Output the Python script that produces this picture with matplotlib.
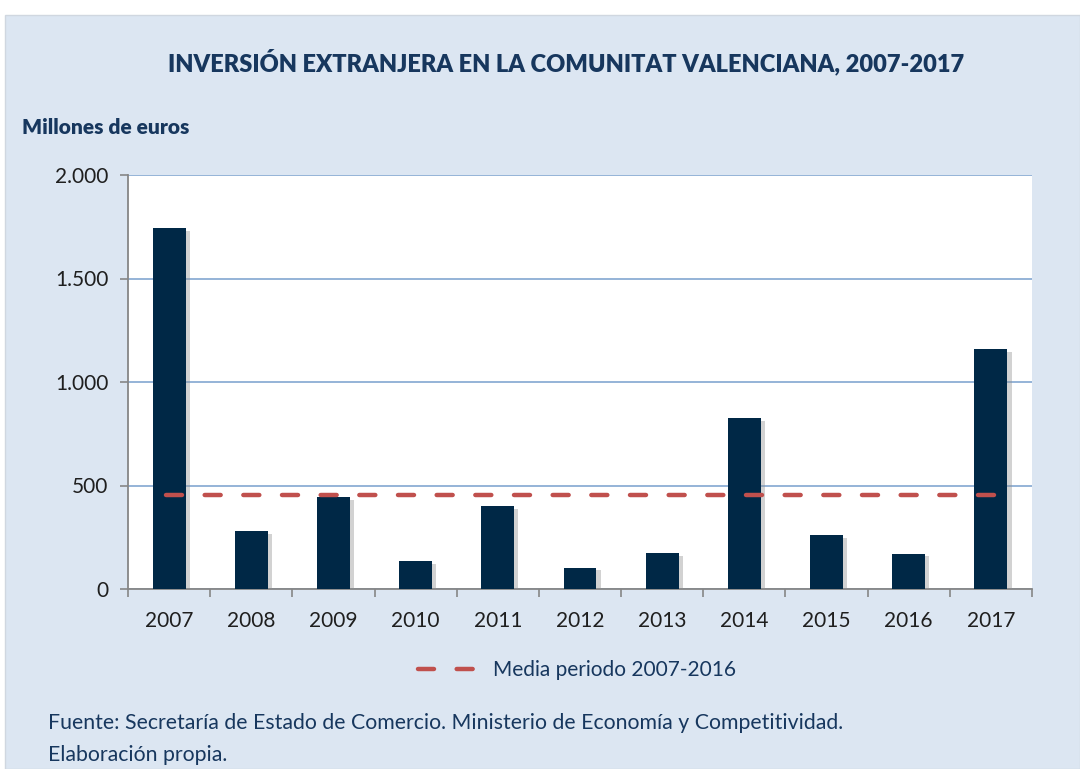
import matplotlib
matplotlib.use("Agg")
import matplotlib.pyplot as plt
import matplotlib.patheffects as pe
from matplotlib.patches import Rectangle
from matplotlib.lines import Line2D

plt.rcParams['font.family'] = ['Lato', 'DejaVu Sans']

years = ['2007', '2008', '2009', '2010', '2011', '2012', '2013', '2014', '2015', '2016', '2017']
inversion = [1744, 280, 444, 134, 400, 103, 174, 825, 259, 171, 1159]
media_2007_2016 = 453
yticks = [0, 500, 1000, 1500, 2000]
ytick_labels = ['0', '500', '1.000', '1.500', '2.000']

W, H = 1080, 769
fig = plt.figure(figsize=(W / 100, H / 100), dpi=100)
fig.patch.set_facecolor('white')

panel_color = '#DCE6F2'
navy = '#17375E'
fig.patches.append(Rectangle((5 / W, 0), 1 - 5 / W, 1 - 15 / H, transform=fig.transFigure,
                             facecolor=panel_color, edgecolor='#D0D7E0', linewidth=1, zorder=-10))

ax = fig.add_axes([128 / W, 1 - 589 / H, (1032 - 128) / W, (589 - 175) / H])
ax.set_facecolor('white')

x = list(range(len(years)))
bars = ax.bar(x, inversion, width=0.40, color='#002846', zorder=3)
for b in bars:
    b.set_path_effects([pe.SimplePatchShadow(offset=(3, -2), shadow_rgbFace='#909090', alpha=0.4),
                        pe.Normal()])

dash_pat = (3.6, 5.1)
line, = ax.plot([x[0] - 0.04, x[-1] + 0.04], [media_2007_2016, media_2007_2016], color='#C0504D',
                lw=3.2, dashes=dash_pat, dash_capstyle='round', zorder=4,
                label='Media periodo 2007-2016')

ax.set_xlim(-0.5, len(years) - 0.5)
ax.set_ylim(0, 2000)
ax.set_yticks(yticks)
ax.set_yticklabels(ytick_labels)
ax.yaxis.grid(True, color='#95B3D7', linewidth=1.4, zorder=1)
ax.set_axisbelow(True)

ax.set_xticks(x)
ax.set_xticklabels(years)
ax.set_xticks([i - 0.5 for i in range(len(years) + 1)], minor=True)
ax.tick_params(axis='x', which='major', length=0, pad=16, labelsize=15, labelcolor='#1F1F1F')
ax.tick_params(axis='x', which='minor', length=6, color='#868686', width=1.2, direction='out')
ax.tick_params(axis='y', length=6, color='#868686', width=1.2, direction='out', pad=8,
               labelsize=15, labelcolor='#1F1F1F')

for s in ['top', 'right']:
    ax.spines[s].set_visible(False)
for s in ['left', 'bottom']:
    ax.spines[s].set_color('#868686')
    ax.spines[s].set_linewidth(1.3)

fig.text(566 / W, 1 - 62 / H, 'INVERSIÓN EXTRANJERA EN LA COMUNITAT VALENCIANA, 2007-2017',
         ha='center', va='center', fontsize=17.0, fontweight='heavy', color=navy)
fig.text(22 / W, 1 - 128 / H, 'Millones de euros', ha='left', va='center',
         fontsize=15, fontweight='heavy', color=navy)

handle = Line2D([], [], color='#C0504D', lw=3.2, dashes=dash_pat, dash_capstyle='round')
fig.legend([handle], ['Media periodo 2007-2016'], loc='center',
           bbox_to_anchor=(577 / W, 1 - 670 / H), frameon=False, fontsize=15,
           handlelength=2.9, handletextpad=0.7, labelcolor=navy)

fig.text(48 / W, 1 - 723 / H,
         'Fuente: Secretaría de Estado de Comercio. Ministerio de Economía y Competitividad.',
         ha='left', va='center', fontsize=15.3, color=navy)
fig.text(48 / W, 1 - 755 / H, 'Elaboración propia.', ha='left', va='center',
         fontsize=15.3, color=navy)

fig.savefig('out.png', dpi=100, facecolor=fig.get_facecolor())
